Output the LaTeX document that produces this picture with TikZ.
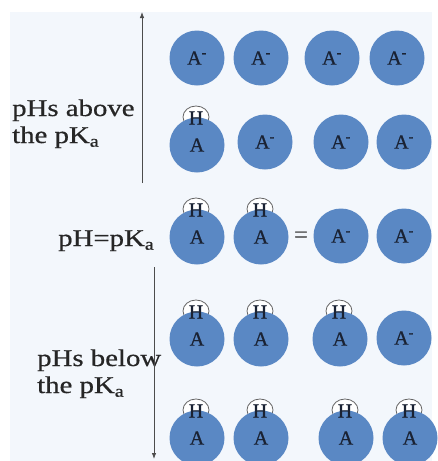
\documentclass[tikz,border=0pt]{standalone}
\usepackage{fontspec}
\setmainfont{Liberation Serif}
\newfontfamily\lblfont[FakeStretch=1.2,FakeBold=0.6]{Liberation Serif}
\newfontfamily\ballfont[FakeBold=0.8]{Liberation Serif}
\usetikzlibrary{arrows.meta,calc,shapes.geometric}
\definecolor{bgblue}{HTML}{F3F7FC}
\definecolor{ballblue}{HTML}{5A88C4}
\definecolor{inkdark}{HTML}{1A2233}
\newcommand\ionball[2]{\node[ball] (#1) at (#2) {A\textsuperscript{-}};}
\newcommand\acidball[2]{%
  \node[hcirc] (#1h) at ($(#2)+(-1,-28)$) {};
  \node[ball] (#1) at (#2) {A};
  \node[hlabel] (#1t) at ($(#1h.center)+(0,1)$) {H};}
\begin{document}
\begin{tikzpicture}[x=1pt,y=-1pt,
  ball/.style={circle,fill=ballblue,minimum size=55pt,inner sep=0pt,font=\ballfont\fontsize{20}{20}\selectfont,text=inkdark},
  hcirc/.style={ellipse,draw=black!60,line width=0.8pt,fill=white,minimum width=26pt,minimum height=22pt,inner sep=0pt},
  hlabel/.style={inner sep=0pt,font=\ballfont\fontsize{20}{20}\selectfont,text=inkdark},
  lbl/.style={font=\lblfont\fontsize{24}{24}\selectfont,anchor=base west,inner sep=0pt,text=black!85},
  axis/.style={draw=black!70,line width=0.8pt,-{Latex[length=6pt,width=4.5pt]}}]
\useasboundingbox (0,0) rectangle (437,461);
\fill[white] (0,0) rectangle (437,461);
\fill[bgblue] (10,12) rectangle (432,461);

% row 1
\ionball{a11}{197,58}
\ionball{a12}{261,58}
\ionball{a13}{332,58}
\ionball{a14}{397,58}
% row 2
\acidball{a21}{197,145}
\ionball{a22}{265,142}
\ionball{a23}{341,142}
\ionball{a24}{404,142}
% row 3
\acidball{a31}{197,237}
\acidball{a32}{261,237}
\node[inner sep=0pt,font=\ballfont\fontsize{24}{24}\selectfont,text=black!70] (eq) at (301,237) {=};
\ionball{a33}{341,236}
\ionball{a34}{404,236}
% row 4
\acidball{a41}{197,339}
\acidball{a42}{261,339}
\acidball{a43}{340,339}
\ionball{a44}{404,338}
% row 5
\acidball{a51}{197,438}
\acidball{a52}{261,438}
\acidball{a53}{346,438}
\acidball{a54}{410,438}

% labels
\node[lbl] (up1) at (12,116) {pHs above};
\node[lbl] (up2) at (12,143) {the pK\textsubscript{a}};
\node[lbl] (mid) at (58,246) {pH=pK\textsubscript{a}};
\node[lbl] (dn1) at (37,366) {pHs below};
\node[lbl] (dn2) at (37,393) {the pK\textsubscript{a}};

% arrows
\coordinate (upS) at (142,183);
\coordinate (upE) at (142,12);
\coordinate (dnS) at (154,267);
\coordinate (dnE) at (154,459);
\draw[axis] (upS) -- (upE);
\draw[axis] (dnS) -- (dnE);
\end{tikzpicture}
\end{document}
